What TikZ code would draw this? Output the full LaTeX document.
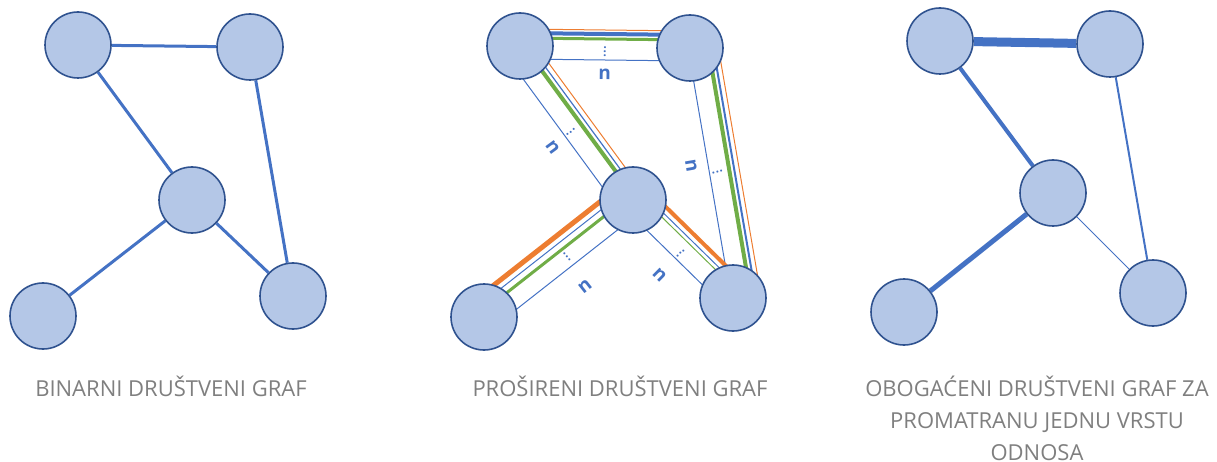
\documentclass[tikz,border=0pt]{standalone}
\usepackage{fontspec}
\setmainfont{Open Sans}
\usetikzlibrary{calc,backgrounds}
\definecolor{nodefill}{HTML}{B4C7E7}
\definecolor{nodeline}{HTML}{2F528F}
\definecolor{edgeblue}{HTML}{4472C4}
\definecolor{edgegreen}{HTML}{70AD47}
\definecolor{edgeorange}{HTML}{ED7D31}
\definecolor{titlegray}{HTML}{7F7F7F}
\tikzstyle{vertex}=[circle,draw=nodeline,fill=nodefill,line width=1.6pt,minimum size=66pt,inner sep=0pt]
\tikzstyle{tie}=[draw=edgeblue,line width=3pt]
\tikzstyle{graphtitle}=[text=titlegray,font=\fontsize{22}{32}\selectfont,align=center,inner sep=0pt]
\tikzstyle{nlabel}=[text=edgeblue,font=\fontsize{19}{19}\selectfont\bfseries,sloped,inner sep=0pt]
\tikzstyle{dotlabel}=[text=edgeblue,font=\fontsize{12}{12}\selectfont\bfseries,sloped,inner sep=0pt]
\tikzset{strand/.style={to path={($(\tikztostart)!#1!90:(\tikztotarget)$) -- ($(\tikztotarget)!#1!-90:(\tikztostart)$) \tikztonodes}}}

\begin{document}
\begin{tikzpicture}[x=1pt,y=-1pt]
    \useasboundingbox (0,0) rectangle (1217,462);

    % binarni graf
    \node (LA) at (78,45) [vertex] {};
    \node (LB) at (250,47) [vertex] {};
    \node (LC) at (192,200) [vertex] {};
    \node (LD) at (43,316) [vertex] {};
    \node (LE) at (293,296) [vertex] {};

    \begin{pgfonlayer}{background}
    \draw (LA) -- (LB) [tie];
    \draw (LA) -- (LC) [tie];
    \draw (LB) -- (LE) [tie];
    \draw (LC) -- (LD) [tie];
    \draw (LC) -- (LE) [tie];
    \end{pgfonlayer}

    % prosireni graf
    \node (MA) at (520,46) [vertex] {};
    \node (MB) at (690,48) [vertex] {};
    \node (MC) at (633,200) [vertex] {};
    \node (MD) at (484,317) [vertex] {};
    \node (ME) at (733,298) [vertex] {};

    \begin{pgfonlayer}{background}
    \draw (MA) to [strand=17pt] (MB) [edgeorange,line width=1pt];
    \draw (MA) to [strand=13pt] (MB) [edgeblue,line width=4pt];
    \draw (MA) to [strand=8pt] (MB) [edgegreen,line width=3pt];
    \path (MA) to [strand=-2pt] node[dotlabel] {$\vdots$} (MB);
    \draw (MA) to [strand=-13pt] (MB) [edgeblue,line width=1pt];
    \path (MA) to [strand=-27pt] node[nlabel] {n} (MB);

    \draw (MA) to [strand=13pt] (MC) [edgeorange,line width=1pt];
    \draw (MA) to [strand=8pt] (MC) [edgeblue,line width=1.2pt];
    \draw (MA) to [strand=3pt] (MC) [edgegreen,line width=4pt];
    \path (MA) to [strand=-7pt] node[dotlabel,pos=.52] {$\vdots$} (MC);
    \draw (MA) to [strand=-17pt] (MC) [edgeblue,line width=1pt];
    \path (MA) to [strand=-34pt] node[nlabel,pos=.53] {n} (MC);

    \draw (MB) to [strand=28pt] (ME) [edgeorange,line width=1pt];
    \draw (MB) to [strand=23pt] (ME) [edgeblue,line width=2pt];
    \draw (MB) to [strand=18pt] (ME) [edgegreen,line width=4pt];
    \path (MB) to [strand=9pt] node[dotlabel] {$\vdots$} (ME);
    \draw (MB) to [strand=-2pt] (ME) [edgeblue,line width=1pt];
    \path (MB) to [strand=-19pt] node[nlabel,pos=.46] {n} (ME);

    \draw (MC) to [strand=-19pt] (MD) [edgeorange,line width=5pt];
    \draw (MC) to [strand=-12pt] (MD) [edgeblue,line width=1pt];
    \draw (MC) to [strand=-5pt] (MD) [edgegreen,line width=3pt];
    \path (MC) to [strand=1pt] node[dotlabel,pos=.46] {$\vdots$} (MD);
    \draw (MC) to [strand=14pt] (MD) [edgeblue,line width=1pt];
    \path (MC) to [strand=38pt] node[nlabel,pos=.48] {n} (MD);

    \draw (MC) to [strand=18pt] (ME) [edgeorange,line width=4pt];
    \draw (MC) to [strand=12pt] (ME) [edgeblue,line width=1pt];
    \draw (MC) to [strand=8pt] (ME) [edgegreen,line width=1pt];
    \path (MC) to [strand=-2pt] node[dotlabel,pos=.51] {$\vdots$} (ME);
    \draw (MC) to [strand=-12pt] (ME) [edgeblue,line width=1pt];
    \path (MC) to [strand=-35pt] node[nlabel,pos=.51] {n} (ME);
    \end{pgfonlayer}

    % obogaceni graf
    \node (RA) at (940,41) [vertex] {};
    \node (RB) at (1110,44) [vertex] {};
    \node (RC) at (1053,193) [vertex] {};
    \node (RD) at (904,312) [vertex] {};
    \node (RE) at (1153,293) [vertex] {};

    \begin{pgfonlayer}{background}
    \draw (RA) -- (RB) [tie,line width=9pt];
    \draw (RA) -- (RC) [tie,line width=4pt];
    \draw (RB) -- (RE) [tie,line width=2pt];
    \draw (RC) -- (RD) [tie,line width=5pt];
    \draw (RC) -- (RE) [tie,line width=1pt];
    \end{pgfonlayer}

    \node (LT) at (171,386) [graphtitle] {BINARNI DRUŠTVENI GRAF};
    \node (MT) at (620,386) [graphtitle] {PROŠIRENI DRUŠTVENI GRAF};
    \node (RT) at (1037,418) [graphtitle] {OBOGAĆENI DRUŠTVENI GRAF ZA\\PROMATRANU JEDNU VRSTU\\ODNOSA};
\end{tikzpicture}
\end{document}
